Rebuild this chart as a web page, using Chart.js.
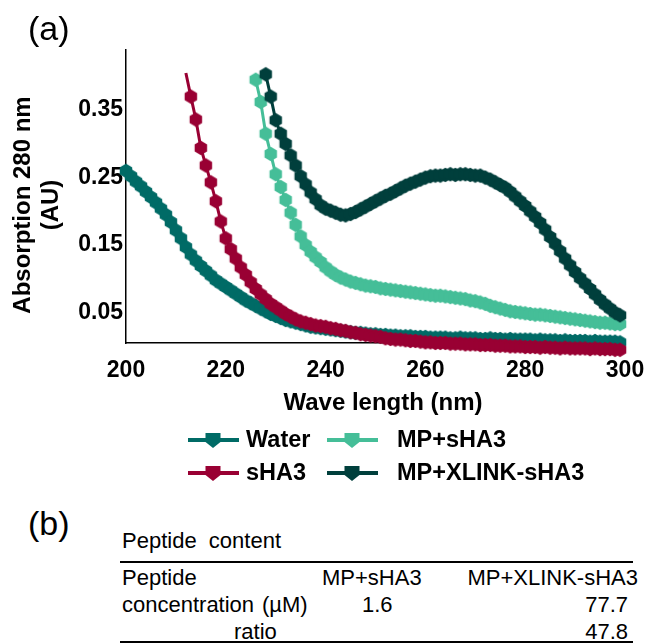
<!DOCTYPE html>
<html>
<head>
<meta charset="utf-8">
<script src="https://cdn.jsdelivr.net/npm/chart.js@4.4.1/dist/chart.umd.min.js"></script>
<style>
  body { margin: 0; background: #fff; width: 648px; height: 644px; position: relative; overflow: hidden;
         font-family: Arial, "Liberation Sans", sans-serif; color: #000; }
  #wrap { position: absolute; left: 0; top: 0; width: 648px; height: 495px; }
  .panel { position: absolute; font-size: 34px; line-height: 34px; }
  .t { position: absolute; font-size: 22px; line-height: 22px; white-space: pre; }
  .rule { position: absolute; left: 120px; width: 513px; height: 2px; background: #000; }
</style>
</head>
<body>
<div id="wrap"><canvas id="chart"></canvas></div>
<div class="panel" style="left:28px;top:11px">(a)</div>
<div class="panel" style="left:28px;top:506px">(b)</div>
<div id="table"></div>
<script>
// wavelength grid (nm), 1 nm steps
const wavelengths = [
  200, 201, 202, 203, 204, 205, 206, 207, 208, 209,
  210, 211, 212, 213, 214, 215, 216, 217, 218, 219,
  220, 221, 222, 223, 224, 225, 226, 227, 228, 229,
  230, 231, 232, 233, 234, 235, 236, 237, 238, 239,
  240, 241, 242, 243, 244, 245, 246, 247, 248, 249,
  250, 251, 252, 253, 254, 255, 256, 257, 258, 259,
  260, 261, 262, 263, 264, 265, 266, 267, 268, 269,
  270, 271, 272, 273, 274, 275, 276, 277, 278, 279,
  280, 281, 282, 283, 284, 285, 286, 287, 288, 289,
  290, 291, 292, 293, 294, 295, 296, 297, 298, 299
];

// absorption at 280 nm (AU), each series starts at its first wavelength
const water = [ // from 200
  0.260, 0.252, 0.244, 0.237, 0.229, 0.221, 0.213, 0.204, 0.195, 0.184,
  0.172, 0.160, 0.147, 0.136, 0.127, 0.119, 0.112, 0.105, 0.098, 0.093,
  0.088, 0.083, 0.078, 0.073, 0.068, 0.064, 0.060, 0.056, 0.052, 0.048,
  0.045, 0.042, 0.039, 0.037, 0.035, 0.033, 0.031, 0.029, 0.028, 0.027,
  0.026, 0.025, 0.024, 0.023, 0.022, 0.021, 0.020, 0.020, 0.019, 0.018,
  0.018, 0.017, 0.017, 0.016, 0.016, 0.015, 0.015, 0.015, 0.014, 0.014,
  0.014, 0.013, 0.013, 0.013, 0.013, 0.012, 0.012, 0.013, 0.012, 0.012,
  0.012, 0.011, 0.011, 0.012, 0.011, 0.011, 0.010, 0.011, 0.010, 0.010,
  0.010, 0.010, 0.009, 0.010, 0.009, 0.009, 0.009, 0.008, 0.009, 0.008,
  0.008, 0.008, 0.008, 0.007, 0.008, 0.007, 0.007, 0.007, 0.007, 0.006
];
const sha3 = [ // from 212
  0.405, 0.370, 0.336, 0.294, 0.268, 0.243, 0.215, 0.185,
  0.160, 0.144, 0.130, 0.117, 0.106, 0.095, 0.085, 0.077, 0.070, 0.063,
  0.058, 0.053, 0.048, 0.044, 0.040, 0.037, 0.035, 0.033, 0.031, 0.030,
  0.029, 0.027, 0.026, 0.024, 0.023, 0.021, 0.020, 0.018, 0.017, 0.016,
  0.015, 0.014, 0.012, 0.011, 0.010, 0.010, 0.009, 0.008, 0.008, 0.007,
  0.006, 0.006, 0.005, 0.005, 0.005, 0.004, 0.004, 0.004, 0.003, 0.003,
  0.003, 0.002, 0.002, 0.002, 0.001, 0.001, 0.001, 0.000, 0.000, 0.000,
  -0.001, -0.001, -0.001, -0.002, -0.001, -0.002, -0.002, -0.003, -0.002, -0.003,
  -0.003, -0.003, -0.003, -0.004, -0.003, -0.004, -0.004, -0.004, -0.005, -0.005
];
const mpSha3 = [ // from 226
  0.395, 0.362, 0.315, 0.285,
  0.255, 0.236, 0.217, 0.198, 0.180, 0.163, 0.150, 0.140, 0.132, 0.125,
  0.117, 0.111, 0.106, 0.102, 0.099, 0.096, 0.094, 0.092, 0.090, 0.089,
  0.088, 0.086, 0.085, 0.084, 0.083, 0.082, 0.081, 0.080, 0.079, 0.078,
  0.077, 0.076, 0.075, 0.075, 0.074, 0.073, 0.072, 0.071, 0.070, 0.068,
  0.067, 0.065, 0.063, 0.060, 0.058, 0.056, 0.054, 0.052, 0.051, 0.050,
  0.049, 0.048, 0.047, 0.047, 0.046, 0.045, 0.044, 0.043, 0.042, 0.041,
  0.040, 0.039, 0.038, 0.037, 0.036, 0.035, 0.035, 0.034, 0.033, 0.033
];
const mpXlink = [ // from 228
  0.403, 0.370,
  0.335, 0.315, 0.300, 0.283, 0.268, 0.252, 0.240, 0.228, 0.218, 0.209,
  0.204, 0.201, 0.198, 0.195, 0.194, 0.196, 0.199, 0.203, 0.207, 0.211,
  0.215, 0.219, 0.223, 0.226, 0.230, 0.234, 0.238, 0.241, 0.244, 0.247,
  0.250, 0.252, 0.253, 0.253, 0.254, 0.255, 0.254, 0.255, 0.255, 0.254,
  0.253, 0.253, 0.250, 0.247, 0.243, 0.239, 0.235, 0.229, 0.222, 0.215,
  0.208, 0.200, 0.192, 0.183, 0.173, 0.162, 0.152, 0.141, 0.130, 0.120,
  0.110, 0.101, 0.093, 0.085, 0.077, 0.069, 0.062, 0.056, 0.050, 0.046
];

const xTicks = [200, 220, 240, 260, 280, 300];
const yTicks = [0.05, 0.15, 0.25, 0.35];
const xTitle = 'Wave length (nm)';
const yTitle = ['Absorption 280 nm', '(AU)'];

// panel (b) table
const tableTitle = 'Peptide  content';
const tableGroups = ['MP+sHA3', 'MP+XLINK-sHA3'];
const concentration = [1.6, 77.7]; // µM
const ratio = [null, 47.8];

const FONT = 'Arial, "Liberation Sans", sans-serif';

function toPoints(values, startNm) {
  const i0 = wavelengths.indexOf(startNm);
  return values.map((v, i) => ({ x: wavelengths[i0 + i], y: v }));
}

function hexagon(color) {
  const c = document.createElement('canvas');
  c.width = 16; c.height = 16;
  const g = c.getContext('2d');
  g.fillStyle = color;
  g.beginPath();
  for (let i = 0; i < 6; i++) {
    const a = -Math.PI / 2 + i * Math.PI / 3;
    const px = 8 + 7.2 * Math.cos(a), py = 8 + 7.2 * Math.sin(a);
    if (i === 0) g.moveTo(px, py); else g.lineTo(px, py);
  }
  g.closePath();
  g.fill();
  return c;
}

const series = [
  { label: 'Water', values: water, start: 200, color: '#006b66', order: 4 },
  { label: 'sHA3', values: sha3, start: 212, color: '#990033', order: 3, hideFirst: true },
  { label: 'MP+sHA3', values: mpSha3, start: 226, color: '#45be98', order: 2 },
  { label: 'MP+XLINK-sHA3', values: mpXlink, start: 228, color: '#003f3c', order: 1 }
];

// legend slots: two columns, two rows
const legendSlots = {
  'Water':         { x: 188, y: 440 },
  'MP+sHA3':       { x: 327, y: 440, tx: 397 },
  'sHA3':          { x: 188, y: 473 },
  'MP+XLINK-sHA3': { x: 327, y: 473, tx: 397 }
};

const decorPlugin = {
  id: 'decor',
  afterDraw(chart) {
    const ctx = chart.ctx;
    ctx.save();
    // axis titles (placed a bit off-centre like the original)
    ctx.fillStyle = '#000';
    ctx.font = 'bold 24px ' + FONT;
    ctx.textAlign = 'center';
    ctx.textBaseline = 'middle';
    ctx.fillText(xTitle, 383, 403);
    [23, 51].forEach((x, i) => {
      ctx.save();
      ctx.translate(x, 205);
      ctx.rotate(-Math.PI / 2);
      ctx.fillText(yTitle[i], 0, 0);
      ctx.restore();
    });
    // legend
    ctx.textAlign = 'left';
    chart.data.datasets.forEach(ds => {
      const s = legendSlots[ds.label];
      ctx.strokeStyle = ds.borderColor;
      ctx.lineWidth = 4;
      ctx.beginPath();
      ctx.moveTo(s.x, s.y);
      ctx.lineTo(s.x + 51, s.y);
      ctx.stroke();
      const cx = s.x + 25;
      ctx.fillStyle = ds.borderColor;
      ctx.beginPath();
      ctx.moveTo(cx - 7.5, s.y - 7);
      ctx.lineTo(cx + 7.5, s.y - 7);
      ctx.lineTo(cx + 7.5, s.y + 2);
      ctx.lineTo(cx, s.y + 8);
      ctx.lineTo(cx - 7.5, s.y + 2);
      ctx.closePath();
      ctx.fill();
      ctx.fillStyle = '#000';
      ctx.font = 'bold 23.5px ' + FONT;
      ctx.fillText(ds.label, s.tx || s.x + 58, s.y + 1);
    });
    ctx.restore();
  }
};

new Chart(document.getElementById('chart'), {
  type: 'line',
  data: {
    datasets: series.map(s => ({
      label: s.label,
      data: toPoints(s.values, s.start),
      borderColor: s.color,
      backgroundColor: s.color,
      borderWidth: 3,
      pointStyle: hexagon(s.color),
      pointRadius: s.hideFirst ? (c => c.dataIndex === 0 ? 0 : 16) : 16,
      tension: 0,
      clip: false,
      order: s.order
    }))
  },
  options: {
    responsive: true,
    maintainAspectRatio: false,
    animation: false,
    events: [],
    layout: { padding: { top: 50, right: 23, bottom: 78, left: 0 } },
    plugins: { legend: { display: false }, tooltip: { enabled: false } },
    scales: {
      x: {
        type: 'linear', min: 200, max: 300,
        afterFit: s => { s.height = 74; s.paddingLeft = 0; s.paddingRight = 0; },
        afterBuildTicks: s => { s.ticks = xTicks.map(v => ({ value: v })); },
        grid: { display: false, drawTicks: false },
        border: { display: true, color: '#000', width: 1.5 },
        ticks: { color: '#000', padding: 14, font: { family: FONT, size: 23, weight: 'bold' } }
      },
      y: {
        min: 0.005, max: 0.439,
        afterFit: s => { s.width = 126; },
        afterBuildTicks: s => { s.ticks = yTicks.map(v => ({ value: v })); },
        grid: { display: false, drawTicks: false },
        border: { display: true, color: '#000', width: 1.5 },
        ticks: { color: '#000', padding: 3, callback: v => v.toFixed(2),
                 font: { family: FONT, size: 23, weight: 'bold' } }
      }
    }
  },
  plugins: [decorPlugin]
});

// table of panel (b)
const table = document.getElementById('table');
function put(text, cy, pos) {
  const d = document.createElement('div');
  d.className = 't';
  d.textContent = text;
  d.style.top = (cy - 11) + 'px';
  if (pos.left != null) d.style.left = pos.left + 'px';
  if (pos.right != null) d.style.right = pos.right + 'px';
  table.appendChild(d);
}
function rule(y) {
  const r = document.createElement('div');
  r.className = 'rule';
  r.style.top = y + 'px';
  table.appendChild(r);
}
put(tableTitle, 541, { left: 122 });
rule(561);
put('Peptide', 578, { left: 122 });
put(tableGroups[0], 578, { left: 322 });
put(tableGroups[1], 578, { right: 10 });
put('concentration', 605, { left: 122 });
put('(\u00b5M)', 605, { left: 262 });
put(String(concentration[0]), 605, { left: 362 });
put(String(concentration[1]), 605, { right: 20 });
put('ratio', 632, { left: 234 });
if (ratio[0] != null) put(String(ratio[0]), 632, { left: 362 });
put(String(ratio[1]), 632, { right: 20 });
rule(641);
</script>
</body>
</html>
